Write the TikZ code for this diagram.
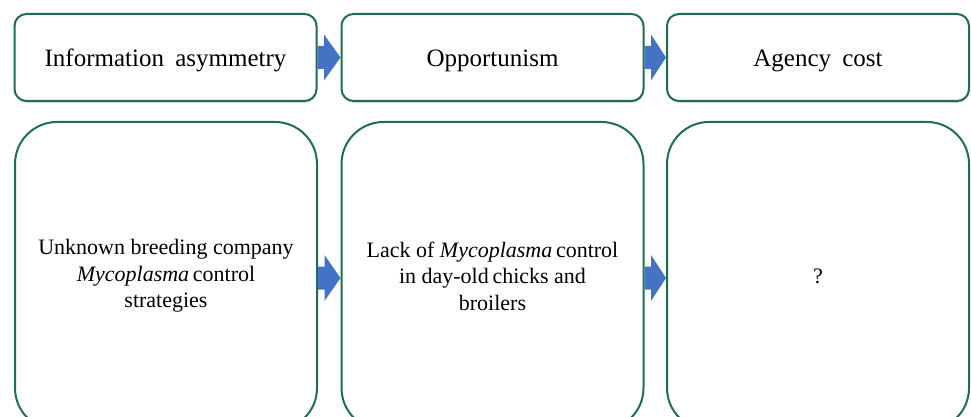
\documentclass[tikz,border=0pt]{standalone}
\usepackage{fontspec}
\setmainfont{Liberation Serif}
\usetikzlibrary{calc,shadows}
\definecolor{boxgreen}{RGB}{31,110,80}
\definecolor{arrowblue}{RGB}{68,114,196}
\begin{document}
\begin{tikzpicture}[x=1pt,y=-1pt,
  topbox/.style={draw=boxgreen, line width=2pt, rounded corners=12pt,
    minimum width=302pt, minimum height=87pt, fill=white, inner sep=0pt,
    text height=20pt, text depth=2pt,
    font=\fontsize{25}{30}\selectfont,
    drop shadow={shadow xshift=0.5pt, shadow yshift=-1.8pt, fill=black!30, opacity=0.6}},
  botbox/.style={draw=boxgreen, line width=2pt, rounded corners=42pt,
    minimum width=302pt, minimum height=308pt, fill=white, inner sep=0pt,
    align=center, font=\fontsize{22}{26.5}\selectfont},
  flowarrow/.style={fill=arrowblue}]
\useasboundingbox (0,0) rectangle (971,417);
\clip (0,0) rectangle (971,417);
\fill[white] (0,0) rectangle (971,417);

% top row
\node[topbox] (t1) at (165.5,57.5) {Information\hspace{0.45em}asymmetry};
\node[topbox] (t2) at (492.5,57.5) {Opportunism};
\node[topbox] (t3) at (818,57.5) {Agency\hspace{0.45em}cost};

% bottom row
\node[botbox] (b1) at (166,276) {Unknown breeding company\\\textit{Mycoplasma}\,control\\strategies};
\node[botbox] (b2) at (492.5,276) {Lack of \textit{Mycoplasma}\,control\\in day-old\,chicks and\\broilers};
\node[botbox] (b3) at (818,276) {?};

% arrows top
\fill[flowarrow] ($(t1.east)+(0,-11.5)$) -- ++(6.5,0) -- ++(0,-11.5) -- (t2.west)
  -- ($(t1.east)+(6.5,23)$) -- ++(0,-11.5) -- ($(t1.east)+(0,11.5)$) -- cycle;
\fill[flowarrow] ($(t2.east)+(0,-11.5)$) -- ++(6.5,0) -- ++(0,-11.5) -- (t3.west)
  -- ($(t2.east)+(6.5,23)$) -- ++(0,-11.5) -- ($(t2.east)+(0,11.5)$) -- cycle;

% arrows bottom
\fill[flowarrow] ($(b1.east)+(0,-9.5)$) -- ++(6.5,0) -- ++(0,-11.5) -- ($(b2.west)+(0,2)$)
  -- ($(b1.east)+(6.5,25)$) -- ++(0,-11.5) -- ($(b1.east)+(0,13.5)$) -- cycle;
\fill[flowarrow] ($(b2.east)+(0,-9.5)$) -- ++(6.5,0) -- ++(0,-11.5) -- ($(b3.west)+(0,2)$)
  -- ($(b2.east)+(6.5,25)$) -- ++(0,-11.5) -- ($(b2.east)+(0,13.5)$) -- cycle;
\end{tikzpicture}
\end{document}
